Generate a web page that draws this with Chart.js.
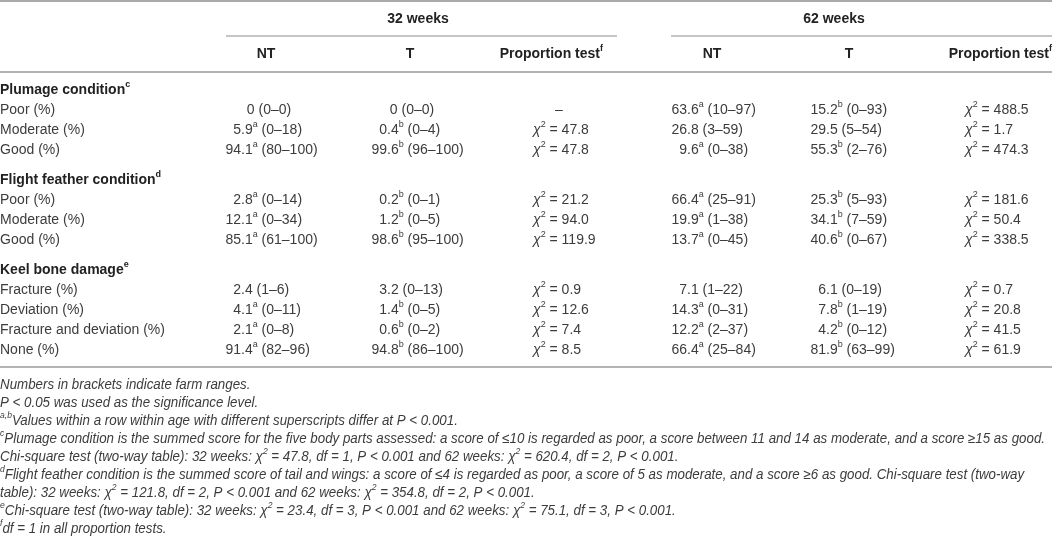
<!DOCTYPE html>
<html>
<head>
<meta charset="utf-8">
<title>Plumage, flight feather and keel bone condition</title>
<script src="https://cdn.jsdelivr.net/npm/chart.js@4.4.1/dist/chart.umd.min.js"></script>
<style>
  html, body { margin: 0; padding: 0; background: #fff; }
  #table { display: block; }
</style>
</head>
<body>
<canvas id="table" width="1052" height="540"></canvas>
<script>
// Groups and row labels
const groups = ["Plumage condition", "Flight feather condition", "Keel bone damage"];
const groupNotes = ["c", "d", "e"];
const groupRows = [
  ["Poor (%)", "Moderate (%)", "Good (%)"],
  ["Poor (%)", "Moderate (%)", "Good (%)"],
  ["Fracture (%)", "Deviation (%)", "Fracture and deviation (%)", "None (%)"]
];

// 32 weeks
const nt32 = [0, 5.9, 94.1, 2.8, 12.1, 85.1, 2.4, 4.1, 2.1, 91.4];
const nt32Sup = ["", "a", "a", "a", "a", "a", "", "a", "a", "a"];
const nt32Range = ["0–0", "0–18", "80–100", "0–14", "0–34", "61–100", "1–6", "0–11", "0–8", "82–96"];
const t32 = [0, 0.4, 99.6, 0.2, 1.2, 98.6, 3.2, 1.4, 0.6, 94.8];
const t32Sup = ["", "b", "b", "b", "b", "b", "", "b", "b", "b"];
const t32Range = ["0–0", "0–4", "96–100", "0–1", "0–5", "95–100", "0–13", "0–5", "0–2", "86–100"];
const chi32 = [null, 47.8, 47.8, 21.2, 94.0, 119.9, 0.9, 12.6, 7.4, 8.5];

// 62 weeks
const nt62 = [63.6, 26.8, 9.6, 66.4, 19.9, 13.7, 7.1, 14.3, 12.2, 66.4];
const nt62Sup = ["a", "", "a", "a", "a", "a", "", "a", "a", "a"];
const nt62Range = ["10–97", "3–59", "0–38", "25–91", "1–38", "0–45", "1–22", "0–31", "2–37", "25–84"];
const t62 = [15.2, 29.5, 55.3, 25.3, 34.1, 40.6, 6.1, 7.8, 4.2, 81.9];
const t62Sup = ["b", "", "b", "b", "b", "b", "", "b", "b", "b"];
const t62Range = ["0–93", "5–54", "2–76", "5–93", "7–59", "0–67", "0–19", "1–19", "0–12", "63–99"];
const chi62 = [488.5, 1.7, 474.3, 181.6, 50.4, 338.5, 0.7, 20.8, 41.5, 61.9];

// Footnotes (each line is a list of [text, style]; style: "" | "sup")
const footnotes = [
  [["Numbers in brackets indicate farm ranges.", ""]],
  [["P < 0.05 was used as the significance level.", ""]],
  [["a,b", "sup"], ["Values within a row within age with different superscripts differ at P < 0.001.", ""]],
  [["c", "sup"], ["Plumage condition is the summed score for the five body parts assessed: a score of ≤10 is regarded as poor, a score between 11 and 14 as moderate, and a score ≥15 as good.", ""]],
  [["Chi-square test (two-way table): 32 weeks: χ", ""], ["2", "sup"], [" = 47.8, df = 1, P < 0.001 and 62 weeks: χ", ""], ["2", "sup"], [" = 620.4, df = 2, P < 0.001.", ""]],
  [["d", "sup"], ["Flight feather condition is the summed score of tail and wings: a score of ≤4 is regarded as poor, a score of 5 as moderate, and a score ≥6 as good. Chi-square test (two-way", ""]],
  [["table): 32 weeks: χ", ""], ["2", "sup"], [" = 121.8, df = 2, P < 0.001 and 62 weeks: χ", ""], ["2", "sup"], [" = 354.8, df = 2, P < 0.001.", ""]],
  [["e", "sup"], ["Chi-square test (two-way table): 32 weeks: χ", ""], ["2", "sup"], [" = 23.4, df = 3, P < 0.001 and 62 weeks: χ", ""], ["2", "sup"], [" = 75.1, df = 3, P < 0.001.", ""]],
  [["f", "sup"], ["df = 1 in all proportion tests.", ""]]
];

// layout (pixels in scale units)
const FONT = "'Liberation Sans', Arial, Helvetica, sans-serif";
const BODY = 14;
const ROW_H = 20;
const GROUP_GAP = 10;
const BODY_TOP = 90;
const FOOT_TOP = 385;
const FOOT_H = 18;
const FOOT_SIZE = 14;
const FOOT_WIDTH = 1045; // width of the longest footnote line
const cols = {
  nt32: { dec: 241, mid: 269 },
  t32: { dec: 387, mid: 412 },
  p32: { left: 533, mid: 559 },
  nt62: { dec: 687, mid: 712 },
  t62: { dec: 826, mid: 849 },
  p62: { left: 965, mid: 990 }
};

// y position of every body row and group header
const groupY = [];
const rowY = [];
let yy = BODY_TOP;
groupRows.forEach((rows) => {
  groupY.push(yy);
  yy += ROW_H;
  rows.forEach(() => {
    rowY.push(yy);
    yy += ROW_H;
  });
  yy += GROUP_GAP;
});
const bottomRuleY = rowY[rowY.length - 1] + 17;

const fmt = (v) => (v === 0 ? "0" : v.toFixed(1));

const valueCells = (vals, sups, ranges, col) =>
  vals.map((v, i) => {
    if (v === 0) {
      return { x: col.mid, y: rowY[i], align: "center", parts: [{ t: "0 (" + ranges[i] + ")" }] };
    }
    const s = fmt(v);
    const dot = s.indexOf(".");
    const parts = [{ t: s.slice(0, dot) }, { t: s.slice(dot) }];
    if (sups[i]) parts.push({ t: sups[i], sup: true });
    parts.push({ t: " (" + ranges[i] + ")" });
    return { x: col.dec, y: rowY[i], align: "decimal", parts: parts };
  });

const chiCells = (vals, col) =>
  vals.map((v, i) => {
    if (v === null) return { x: col.mid, y: rowY[i], align: "center", parts: [{ t: "–" }] };
    return {
      x: col.left,
      y: rowY[i],
      align: "left",
      parts: [{ t: "χ", i: true }, { t: "2", sup: true }, { t: " = " + v.toFixed(1) }]
    };
  });

const columns = [
  valueCells(nt32, nt32Sup, nt32Range, cols.nt32),
  valueCells(t32, t32Sup, t32Range, cols.t32),
  chiCells(chi32, cols.p32),
  valueCells(nt62, nt62Sup, nt62Range, cols.nt62),
  valueCells(t62, t62Sup, t62Range, cols.t62),
  chiCells(chi62, cols.p62)
];

// ---- rich text helpers ----
function partFont(p, size, base) {
  const s = p.sup ? Math.round(size * 0.62) : size;
  return (p.i || base.i ? "italic " : "") + (p.b || base.b ? "bold " : "") + s + "px " + FONT;
}
function partsWidth(ctx, parts, size, base) {
  let w = 0;
  parts.forEach((p) => {
    ctx.font = partFont(p, size, base);
    w += ctx.measureText(p.t).width;
  });
  return w;
}
function drawParts(ctx, parts, x, y, size, base) {
  let cx = x;
  parts.forEach((p) => {
    ctx.font = partFont(p, size, base);
    ctx.fillText(p.t, cx, p.sup ? y - size * 0.36 : y);
    cx += ctx.measureText(p.t).width;
  });
}
function drawAligned(ctx, parts, x, y, align, size, base) {
  let sx = x;
  if (align === "center") sx = x - partsWidth(ctx, parts, size, base) / 2;
  else if (align === "right") sx = x - partsWidth(ctx, parts, size, base);
  else if (align === "decimal") sx = x - partsWidth(ctx, parts.slice(0, 1), size, base);
  drawParts(ctx, parts, sx, y, size, base);
}

const tablePlugin = {
  id: "tableText",
  afterDraw(chart) {
    const ctx = chart.ctx;
    const xs = chart.scales.x;
    const ys = chart.scales.y;
    const X = (v) => xs.getPixelForValue(v);
    const Y = (v) => ys.getPixelForValue(v);
    ctx.save();
    ctx.textBaseline = "middle";

    // rules
    const rule = (x0, x1, y, w, c) => {
      ctx.strokeStyle = c;
      ctx.lineWidth = w;
      ctx.beginPath();
      ctx.moveTo(X(x0), Y(y));
      ctx.lineTo(X(x1), Y(y));
      ctx.stroke();
    };
    rule(0, 1052, 1, 2, "#a9a9a9");
    rule(226, 617, 36, 1, "#8c8c8c");
    rule(671, 1052, 36, 1, "#8c8c8c");
    rule(0, 1052, 72, 2, "#b3b3b3");
    rule(0, 1052, bottomRuleY, 2, "#b3b3b3");

    // column headers
    ctx.fillStyle = "#222";
    const bold = { b: true };
    drawAligned(ctx, [{ t: "32 weeks" }], X(418), Y(19), "center", BODY, bold);
    drawAligned(ctx, [{ t: "62 weeks" }], X(834), Y(19), "center", BODY, bold);
    drawAligned(ctx, [{ t: "NT" }], X(266), Y(54), "center", BODY, bold);
    drawAligned(ctx, [{ t: "T" }], X(410), Y(54), "center", BODY, bold);
    drawAligned(ctx, [{ t: "Proportion test" }, { t: "f", sup: true }], X(603), Y(54), "right", BODY, bold);
    drawAligned(ctx, [{ t: "NT" }], X(712), Y(54), "center", BODY, bold);
    drawAligned(ctx, [{ t: "T" }], X(849), Y(54), "center", BODY, bold);
    drawAligned(ctx, [{ t: "Proportion test" }, { t: "f", sup: true }], X(1052), Y(54), "right", BODY, bold);

    // group headers and row labels
    groups.forEach((g, i) => {
      drawAligned(ctx, [{ t: g }, { t: groupNotes[i], sup: true }], X(0), Y(groupY[i]), "left", BODY, bold);
    });
    ctx.fillStyle = "#3c3c3c";
    let r = 0;
    groupRows.forEach((rows) => {
      rows.forEach((lab) => {
        drawAligned(ctx, [{ t: lab }], X(0), Y(rowY[r]), "left", BODY, {});
        r++;
      });
    });

    // cells, placed by the chart's own points
    chart.data.datasets.forEach((ds, di) => {
      const meta = chart.getDatasetMeta(di);
      meta.data.forEach((pt, i) => {
        const cell = ds.cells[i];
        drawAligned(ctx, cell.parts, pt.x, pt.y, cell.align, BODY, {});
      });
    });

    // footnotes, italic and condensed to the table width
    ctx.fillStyle = "#3c3c3c";
    const toParts = (line) => line.map(([t, st]) => ({ t: t, sup: st === "sup" }));
    const longest = Math.max(...footnotes.map((l) => partsWidth(ctx, toParts(l), FOOT_SIZE, { i: true })));
    const sx = FOOT_WIDTH / longest;
    footnotes.forEach((line, i) => {
      ctx.save();
      ctx.translate(X(0), Y(FOOT_TOP + i * FOOT_H));
      ctx.scale(sx, 1);
      drawParts(ctx, toParts(line), 0, 0, FOOT_SIZE, { i: true });
      ctx.restore();
    });
    ctx.restore();
  }
};

new Chart(document.getElementById("table"), {
  type: "scatter",
  data: {
    datasets: columns.map((cells) => ({
      data: cells.map((c) => ({ x: c.x, y: c.y })),
      cells: cells,
      pointRadius: 0,
      pointHoverRadius: 0
    }))
  },
  options: {
    responsive: false,
    animation: false,
    events: [],
    layout: { padding: 0 },
    plugins: { legend: { display: false }, tooltip: { enabled: false } },
    scales: {
      x: { type: "linear", min: 0, max: 1052, display: false },
      y: { type: "linear", min: 0, max: 540, reverse: true, display: false }
    }
  },
  plugins: [tablePlugin]
});
</script>
</body>
</html>
